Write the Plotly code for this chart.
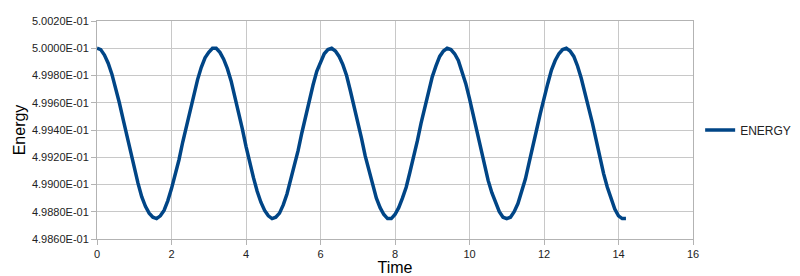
import plotly.graph_objects as go

time = [round(0.1 * i, 1) for i in range(143)]  # 0.0 .. 14.2 sample times
energy = [
    0.50000, 0.49999, 0.49995, 0.49989, 0.49981, 0.49971, 0.49960, 0.49948, 0.49936, 0.49923,
    0.49912, 0.49901, 0.49891, 0.49884, 0.49879, 0.49876, 0.49875, 0.49877, 0.49881, 0.49888,
    0.49897, 0.49907, 0.49918, 0.49931, 0.49943, 0.49955, 0.49967, 0.49977, 0.49986, 0.49993,
    0.49997, 0.50000, 0.50000, 0.49997, 0.49992, 0.49985, 0.49976, 0.49965, 0.49953, 0.49941,
    0.49928, 0.49916, 0.49905, 0.49895, 0.49887, 0.49881, 0.49877, 0.49875, 0.49876, 0.49879,
    0.49885, 0.49893, 0.49903, 0.49913, 0.49925, 0.49938, 0.49950, 0.49962, 0.49973, 0.49983,
    0.49990, 0.49996, 0.49999, 0.50000, 0.49998, 0.49994, 0.49988, 0.49980, 0.49969, 0.49958,
    0.49946, 0.49934, 0.49921, 0.49910, 0.49899, 0.49890, 0.49883, 0.49878, 0.49875, 0.49875,
    0.49878, 0.49883, 0.49890, 0.49898, 0.49909, 0.49920, 0.49932, 0.49945, 0.49957, 0.49968,
    0.49979, 0.49987, 0.49994, 0.49998, 0.50000, 0.49999, 0.49996, 0.49991, 0.49983, 0.49974,
    0.49963, 0.49951, 0.49939, 0.49926, 0.49915, 0.49903, 0.49894, 0.49886, 0.49880, 0.49876,
    0.49875, 0.49876, 0.49880, 0.49886, 0.49895, 0.49904, 0.49916, 0.49927, 0.49940, 0.49952,
    0.49964, 0.49974, 0.49984, 0.49991, 0.49996, 0.49999, 0.50000, 0.49998, 0.49994, 0.49987,
    0.49978, 0.49968, 0.49956, 0.49945, 0.49932, 0.49920, 0.49908, 0.49898, 0.49889, 0.49882,
    0.49877, 0.49875, 0.49875,
]

y_ticks = [0.4986, 0.4988, 0.4990, 0.4992, 0.4994, 0.4996, 0.4998, 0.5000, 0.5002]
y_tick_labels = ["4.9860E-01", "4.9880E-01", "4.9900E-01", "4.9920E-01", "4.9940E-01",
                 "4.9960E-01", "4.9980E-01", "5.0000E-01", "5.0020E-01"]
x_ticks = [0, 2, 4, 6, 8, 10, 12, 14, 16]

fig = go.Figure()
fig.add_trace(go.Scatter(x=time, y=energy, mode="lines", name="ENERGY",
                         line=dict(color="#004586", width=3.5)))

axis_common = dict(showline=True, linecolor="#b3b3b3", linewidth=1, mirror=True,
                   showgrid=True, gridcolor="#c8c8c8", gridwidth=1, zeroline=False,
                   ticks="outside", ticklen=5, tickcolor="#b3b3b3",
                   tickfont=dict(family="Liberation Sans, Arial, sans-serif", size=11, color="#222222"))

fig.update_layout(
    width=800, height=276,
    margin=dict(l=97, r=107, t=21, b=37, autoexpand=False),
    paper_bgcolor="white", plot_bgcolor="white",
    font=dict(family="Liberation Sans, Arial, sans-serif", color="#000000"),
    xaxis=dict(range=[0, 16], tickvals=x_ticks,
               title=dict(text="Time", font=dict(size=16), standoff=9), **axis_common),
    yaxis=dict(range=[0.4986, 0.5002], tickvals=y_ticks, ticktext=y_tick_labels,
               title=dict(text="Energy", font=dict(size=16), standoff=2), **axis_common),
    showlegend=True,
    legend=dict(x=1.012, xanchor="left", y=0.5, yanchor="middle",
                font=dict(size=12, color="#222222"), bgcolor="rgba(0,0,0,0)"),
)

fig.write_html("out.html")
